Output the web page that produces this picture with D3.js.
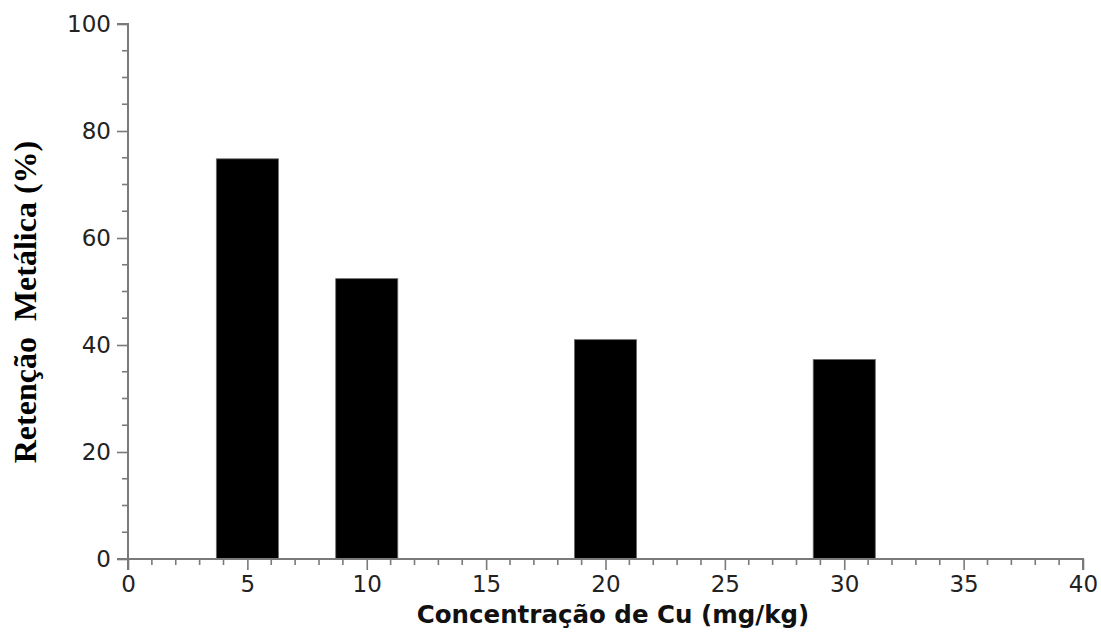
<!DOCTYPE html>
<html>
<head>
<meta charset="utf-8">
<script src="https://cdn.jsdelivr.net/npm/d3@7"></script>
<style>
  html, body { margin: 0; padding: 0; background: #fff; }
  svg { display: block; }
</style>
</head>
<body>
<svg id="chart" width="1101" height="632"></svg>
<script>
// Copper concentration (mg/kg) and metal retention (%)
const concentrations = [5, 10, 20, 30];
const retention = [74.8, 52.4, 41.0, 37.3];
const xTicks = [0, 5, 10, 15, 20, 25, 30, 35, 40];
const yTicks = [0, 20, 40, 60, 80, 100];

const svg = d3.select("#chart");
const plot = { left: 128, right: 1083, top: 24, bottom: 559 };
const axisColor = "#7a7a7a";

const x = d3.scaleLinear().domain([0, 40]).range([plot.left, plot.right]);
const y = d3.scaleLinear().domain([0, 100]).range([plot.bottom, plot.top]);

const barWidth = 2.6; // in mg/kg units

// bars
svg.append("g").selectAll("rect")
  .data(concentrations)
  .join("rect")
  .attr("x", (d) => x(d - barWidth / 2))
  .attr("width", x(barWidth) - x(0))
  .attr("y", (d, i) => y(retention[i]))
  .attr("height", (d, i) => y(0) - y(retention[i]))
  .attr("fill", "#000")
  .attr("stroke", "#6b6b6b")
  .attr("stroke-width", 0.8);

// minor ticks
const xMinor = d3.range(0, 41, 1).filter((v) => v % 5 !== 0);
const yMinor = d3.range(0, 101, 5).filter((v) => v % 20 !== 0);

const gx = svg.append("g").attr("transform", `translate(0,${plot.bottom})`);
gx.call(d3.axisBottom(x).tickValues(xTicks).tickSize(11).tickPadding(6).tickFormat(d3.format("d")));
gx.append("g").selectAll("line").data(xMinor).join("line")
  .attr("x1", (d) => x(d)).attr("x2", (d) => x(d))
  .attr("y1", 0).attr("y2", 6);

const gy = svg.append("g").attr("transform", `translate(${plot.left},0)`);
gy.call(d3.axisLeft(y).tickValues(yTicks).tickSize(11).tickPadding(6).tickFormat(d3.format("d")));
gy.append("g").selectAll("line").data(yMinor).join("line")
  .attr("x1", 0).attr("x2", -6)
  .attr("y1", (d) => y(d)).attr("y2", (d) => y(d));

[gx, gy].forEach((g) => {
  g.select(".domain").attr("stroke", axisColor).attr("stroke-width", 2);
  g.selectAll("line").attr("stroke", axisColor).attr("stroke-width", 1.6);
  g.selectAll("text")
    .attr("fill", "#222")
    .style("font-family", "'DejaVu Sans', Verdana, sans-serif")
    .style("font-size", "23px");
});
gx.select(".domain").attr("d", `M${plot.left},11V0H${plot.right}V11`);
gy.select(".domain").attr("d", `M-11,${plot.top}H0V${plot.bottom}H-11`);

// axis titles
svg.append("text")
  .attr("x", 613).attr("y", 623)
  .attr("text-anchor", "middle")
  .style("font-family", "'DejaVu Sans', Verdana, sans-serif")
  .style("font-weight", "bold")
  .style("font-size", "24.5px")
  .attr("fill", "#111")
  .text("Concentração de Cu (mg/kg)");

svg.append("text")
  .attr("transform", "translate(36,302) rotate(-90)")
  .attr("text-anchor", "middle")
  .style("font-family", "'Liberation Serif', 'Times New Roman', serif")
  .style("font-weight", "bold")
  .style("font-size", "32px")
  .style("white-space", "pre")
  .attr("fill", "#000")
  .text("Retenção  Metálica (%)");
</script>
</body>
</html>
